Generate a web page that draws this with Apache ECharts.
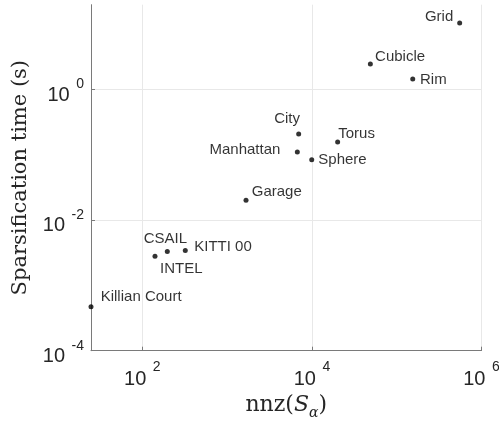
<!DOCTYPE html>
<html><head><meta charset="utf-8">
<script src="https://cdn.jsdelivr.net/npm/echarts@6/dist/echarts.min.js"></script>
<style>html,body{margin:0;padding:0;background:#fff}#c{width:499px;height:421px}</style>
</head><body><div id="c"></div>
<script>
// Data (log-log)
const names = ['Killian Court','INTEL','CSAIL','KITTI 00','Garage','Manhattan','City','Sphere','Torus','Cubicle','Rim','Grid'];
const nnzValues = [24.8, 141, 197, 321, 1670, 6730, 6980, 9950, 20100, 48900, 154500, 553000];
const timeValues = [4.7e-4, 2.78e-3, 3.28e-3, 3.40e-3, 0.0199, 0.109, 0.206, 0.0833, 0.155, 2.41, 1.42, 10.2];
const xTickExponents = [2, 4, 6];
const yTickExponents = [-4, -2, 0];

// Label placement relative to the dot (style only)
const labelPlace = {
  'Killian Court': ['left',  [9.7, -10]],
  'INTEL':         ['left',  [5, 12.5]],
  'CSAIL':         ['center',[-2, -13]],
  'KITTI 00':      ['left',  [9, -4]],
  'Garage':        ['left',  [5.7, -8.7]],
  'Manhattan':     ['right', [-17, -2]],
  'City':          ['right', [1.3, -15]],
  'Sphere':        ['left',  [6.6, 0.5]],
  'Torus':         ['left',  [0.6, -8.5]],
  'Cubicle':       ['left',  [4.7, -7]],
  'Rim':           ['left',  [7.3, 1]],
  'Grid':          ['right', [-6.4, -6]]
};

const sans = 'Liberation Sans, Arial, Helvetica, sans-serif';
const serif = 'DejaVu Serif, serif';
const axisGray = '#7a7a7a';
const textDark = '#262626';
const dotSize = 5;

const data = names.map((n, i) => {
  const p = labelPlace[n];
  return {
    name: n,
    value: [Math.log10(nnzValues[i]), Math.log10(timeValues[i])],
    label: { position: [dotSize / 2 + p[1][0], dotSize / 2 + p[1][1]], align: p[0], verticalAlign: 'middle' }
  };
});

const makeRich = lh => ({
  b: { fontSize: 20, fontFamily: sans, color: textDark, lineHeight: lh, verticalAlign: 'bottom' },
  s: { fontSize: 14, fontFamily: sans, color: textDark, lineHeight: 14, verticalAlign: 'top', padding: [0, 0, 0, 6.5] }
});
const powFmt = v => '{b|10}{s|' + Math.round(v) + '}';

const chart = echarts.init(document.getElementById('c'), null, { renderer: 'canvas' });
chart.setOption({
  animation: false,
  backgroundColor: '#ffffff',
  grid: { left: 91, right: 17.5, top: 4.7, bottom: 70.3, containLabel: false, outerBoundsMode: 'none' },
  xAxis: {
    type: 'value',
    min: Math.log10(24.8), max: 6, splitNumber: 2,
    name: '{n|nnz(}{i|S}{sub|α}{n|)}',
    nameLocation: 'middle', nameGap: 36,
    nameTextStyle: {
      rich: {
        n: { fontFamily: serif, fontSize: 22, color: textDark, lineHeight: 26, verticalAlign: 'top' },
        i: { fontFamily: serif, fontSize: 22, fontStyle: 'italic', color: textDark, lineHeight: 26, verticalAlign: 'top' },
        sub: { fontFamily: serif, fontSize: 14, fontStyle: 'italic', color: textDark, lineHeight: 16, verticalAlign: 'bottom' }
      }
    },
    axisLine: { show: true, onZero: false, lineStyle: { color: axisGray, width: 1 } },
    axisTick: { show: true, inside: true, length: 4, customValues: xTickExponents, lineStyle: { color: axisGray } },
    axisLabel: { customValues: xTickExponents, formatter: powFmt, rich: makeRich(30), margin: 9 },
    splitLine: { show: true, customValues: xTickExponents, lineStyle: { color: '#e8e8e8', width: 1 } }
  },
  yAxis: {
    type: 'value',
    min: -4, max: 1.29, interval: 2,
    name: 'Sparsification time (s)',
    nameLocation: 'middle', nameGap: 60,
    nameTextStyle: { fontFamily: serif, fontSize: 21, color: textDark },
    axisLine: { show: true, onZero: false, lineStyle: { color: axisGray, width: 1 } },
    axisTick: { show: true, inside: true, length: 4, customValues: yTickExponents, lineStyle: { color: axisGray } },
    axisLabel: { customValues: yTickExponents, formatter: powFmt, rich: makeRich(27.5), margin: 7, padding: [4.5, 0, 0, 0] },
    splitLine: { show: true, customValues: yTickExponents, lineStyle: { color: '#e8e8e8', width: 1 } }
  },
  series: [{
    type: 'scatter',
    symbol: 'circle',
    symbolSize: dotSize,
    itemStyle: { color: '#000000' },
    label: {
      show: true,
      formatter: '{b}',
      fontFamily: sans,
      fontSize: 15,
      color: '#000000'
    },
    labelLayout: { hideOverlap: false },
    emphasis: { disabled: true },
    data: data
  }]
});
</script>
</body></html>
